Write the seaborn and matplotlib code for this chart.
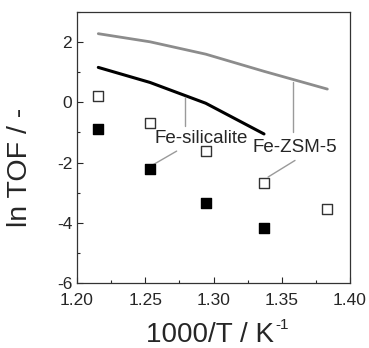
import numpy as np
import pandas as pd
import matplotlib
matplotlib.use("Agg")
import matplotlib.pyplot as plt
import seaborn as sns

# Datos
inv_T = [1.2156, 1.2535, 1.2943, 1.337, 1.3834]
zsm5_exp = [0.22, -0.69, -1.62, -2.67, -3.55]
sil_exp = [-0.88, -2.20, -3.33, -4.17]
zsm5_model = [2.28, 2.01, 1.60, 1.03, 0.44]
sil_model = [1.16, 0.66, -0.03, -1.05]

sns.set_style("ticks")
plt.rcParams['font.family'] = ['Liberation Sans', 'DejaVu Sans']
plt.rcParams['xtick.direction'] = 'in'
plt.rcParams['ytick.direction'] = 'in'
plt.rcParams['axes.unicode_minus'] = False

fig = plt.figure(figsize=(3.69, 3.48), dpi=100)
ax = fig.add_axes([77 / 369, 1 - 283 / 348, 273 / 369, 271 / 348])

# Lineas del modelo
sns.lineplot(x=inv_T, y=zsm5_model, color='#8c8c8c', lw=2, ax=ax)
sns.lineplot(x=inv_T[:4], y=sil_model, color='black', lw=2.2, ax=ax)

# Puntos experimentales
sns.scatterplot(x=inv_T, y=zsm5_exp, marker='s', s=55, facecolor='white',
                edgecolor='#333333', linewidth=1, ax=ax, zorder=3)
sns.scatterplot(x=inv_T[:4], y=sil_exp, marker='s', s=55, color='black',
                edgecolor='black', linewidth=1, ax=ax, zorder=3)

# Etiquetas con lineas guia
gris = '#9a9a9a'
ax.plot([1.2791, 1.2791], [0.17, -0.80], color=gris, lw=1)
ax.plot([1.273, 1.2547], [-1.62, -2.10], color=gris, lw=1)
ax.text(1.2913, -1.2, 'Fe-silicalite', ha='center', va='center',
        fontsize=13.5)
ax.plot([1.3585, 1.3585], [0.69, -0.99], color=gris, lw=1)
ax.plot([1.3597, 1.340], [-1.93, -2.48], color=gris, lw=1)
ax.text(1.3595, -1.49, 'Fe-ZSM-5', ha='center', va='center', fontsize=13.5)

ax.set_xlim(1.20, 1.40)
ax.set_ylim(-6, 3)
ax.set_xticks([1.20, 1.25, 1.30, 1.35, 1.40])
ax.set_xticks(np.arange(1.225, 1.40, 0.05), minor=True)
ax.set_yticks([-6, -4, -2, 0, 2])
ax.set_yticks([-5, -3, -1, 1, 3], minor=True)
ax.set_xticklabels(['1.20', '1.25', '1.30', '1.35', '1.40'])
ax.tick_params(labelsize=12.5, length=4, width=0.8)
ax.tick_params(axis='x', pad=7)
ax.tick_params(which='minor', length=2.5, width=0.8)
for s in ax.spines.values():
    s.set_linewidth(0.9)
    s.set_color('#333333')

# Titulos de los ejes colocados a mano
fig.text(20 / 369, 1 - 167 / 348, 'ln TOF / -', rotation=90,
         ha='center', va='center', fontsize=20.5)
xl = fig.text(210 / 369, 1 - 342 / 348, '1000/T / K', ha='center',
              va='baseline', fontsize=20)
fig.canvas.draw()
bb = xl.get_window_extent()
fig.text((bb.x1 + 1) / 369, 1 - 329 / 348, '-1', ha='left',
         va='baseline', fontsize=11)

fig.savefig('out.png', dpi=100)
